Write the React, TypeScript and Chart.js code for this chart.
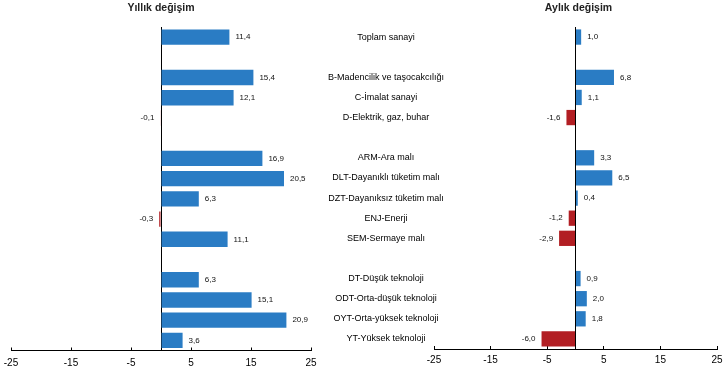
import React, { useEffect, useRef } from 'react';
import { Chart, registerables } from 'chart.js';

Chart.register(...registerables);

const categories = [
  'Toplam sanayi',
  '',
  'B-Madencilik ve taşocakcılığı',
  'C-İmalat sanayi',
  'D-Elektrik, gaz, buhar',
  '',
  'ARM-Ara malı',
  'DLT-Dayanıklı tüketim malı',
  'DZT-Dayanıksız tüketim malı',
  'ENJ-Enerji',
  'SEM-Sermaye malı',
  '',
  'DT-Düşük teknoloji',
  'ODT-Orta-düşük teknoloji',
  'OYT-Orta-yüksek teknoloji',
  'YT-Yüksek teknoloji',
];

const annualChange: (number | null)[] = [11.4, null, 15.4, 12.1, -0.1, null, 16.9, 20.5, 6.3, -0.3, 11.1, null, 6.3, 15.1, 20.9, 3.6];
const monthlyChange: (number | null)[] = [1.0, null, 6.8, 1.1, -1.6, null, 3.3, 6.5, 0.4, -1.2, -2.9, null, 0.9, 2.0, 1.8, -6.0];

const xTicks = [-25, -15, -5, 5, 15, 25];
const annualTitle = 'Yıllık değişim';
const monthlyTitle = 'Aylık değişim';

const BLUE = '#2a7cc4';
const RED = '#b21e23';
const FAMILY = "'Liberation Sans', Arial, sans-serif";
const CAT_FONT = 9;

function makeValueLabels() {
  return {
    id: 'valueLabels',
    afterDatasetsDraw(chart: any) {
      const ctx = chart.ctx;
      const meta = chart.getDatasetMeta(0);
      const data = chart.data.datasets[0].data as (number | null)[];
      ctx.save();
      ctx.font = `8px ${FAMILY}`;
      ctx.fillStyle = '#111';
      ctx.textBaseline = 'middle';
      meta.data.forEach((el: any, i: number) => {
        const v = data[i];
        if (v === null || v === undefined) return;
        const s = v.toFixed(1).replace('.', ',');
        if (v >= 0) {
          ctx.textAlign = 'left';
          ctx.fillText(s, el.x + 6, el.y);
        } else {
          ctx.textAlign = 'right';
          ctx.fillText(s, el.x - 6, el.y);
        }
      });
      ctx.restore();
    },
  };
}

function makeTitle(text: string, dx: number) {
  return {
    id: 'sideTitle',
    afterDraw(chart: any) {
      const ctx = chart.ctx;
      const x = chart.scales.x.getPixelForValue(0) + dx;
      ctx.save();
      ctx.font = `bold 10.5px ${FAMILY}`;
      ctx.fillStyle = '#222';
      ctx.textAlign = 'center';
      ctx.textBaseline = 'alphabetic';
      ctx.fillText(text, x, 11);
      ctx.restore();
    },
  };
}

function xScale(height: number, padding: number) {
  return {
    type: 'linear',
    min: -25,
    max: 25,
    afterBuildTicks: (s: any) => {
      s.ticks = [...xTicks, 0].sort((a, b) => a - b).map((v) => ({ value: v }));
    },
    afterFit: (s: any) => {
      s.height = height;
      s.paddingLeft = 0;
      s.paddingRight = 0;
    },
    grid: {
      drawOnChartArea: true,
      drawTicks: true,
      tickLength: -3,
      lineWidth: 1,
      color: (c: any) => (c.tick && c.tick.value === 0 ? '#000' : 'rgba(0,0,0,0)'),
      tickColor: (c: any) => (c.tick && c.tick.value === 0 ? 'rgba(0,0,0,0)' : '#000'),
    },
    border: { display: true, color: '#000', width: 1 },
    ticks: {
      autoSkip: false,
      maxRotation: 0,
      padding,
      color: '#000',
      font: { family: FAMILY, size: 10 },
      callback: (v: any) => (Number(v) === 0 ? '' : String(v)),
    },
  };
}

export default function App() {
  const leftRef = useRef<HTMLCanvasElement>(null);
  const rightRef = useRef<HTMLCanvasElement>(null);

  useEffect(() => {
    const mc = document.createElement('canvas').getContext('2d')!;
    mc.font = `${CAT_FONT}px ${FAMILY}`;
    const widest = Math.max(...categories.map((c) => mc.measureText(c).width));
    const yAxisWidth = 110;
    const labelCenter = 62;
    const yPad = labelCenter - yAxisWidth - widest / 2;

    const left = new Chart(leftRef.current!, {
      type: 'bar',
      data: {
        labels: categories,
        datasets: [
          {
            data: annualChange as any,
            backgroundColor: annualChange.map((v) => ((v ?? 0) < 0 ? RED : BLUE)),
            borderWidth: 0,
            barPercentage: 0.76,
            categoryPercentage: 1,
          },
        ],
      },
      options: {
        indexAxis: 'y',
        animation: false,
        responsive: false,
        events: [],
        layout: { padding: { left: 11, right: 13, top: 27, bottom: 0 } },
        plugins: { legend: { display: false }, tooltip: { enabled: false }, title: { display: false } },
        scales: {
          x: xScale(17.5, 9.5) as any,
          y: { type: 'category', display: false, grid: { display: false } },
        },
      },
      plugins: [makeValueLabels(), makeTitle(annualTitle, 0)],
    });

    const right = new Chart(rightRef.current!, {
      type: 'bar',
      data: {
        labels: categories,
        datasets: [
          {
            data: monthlyChange as any,
            backgroundColor: monthlyChange.map((v) => ((v ?? 0) < 0 ? RED : BLUE)),
            borderWidth: 0,
            barPercentage: 0.76,
            categoryPercentage: 1,
          },
        ],
      },
      options: {
        indexAxis: 'y',
        animation: false,
        responsive: false,
        events: [],
        layout: { padding: { left: 0, right: 7, top: 27, bottom: 0 } },
        plugins: { legend: { display: false }, tooltip: { enabled: false }, title: { display: false } },
        scales: {
          x: xScale(19, 8) as any,
          y: {
            type: 'category',
            position: 'left',
            afterFit: (s: any) => {
              s.width = yAxisWidth;
              s.paddingTop = 0;
              s.paddingBottom = 0;
            },
            grid: { display: false, drawTicks: false },
            border: { display: false },
            ticks: {
              autoSkip: false,
              mirror: true,
              crossAlign: 'center',
              padding: yPad,
              color: '#000',
              font: { family: FAMILY, size: CAT_FONT },
            },
          } as any,
        },
      },
      plugins: [makeValueLabels(), makeTitle(monthlyTitle, 3)],
    });

    return () => {
      left.destroy();
      right.destroy();
    };
  }, []);

  return (
    <div style={{ position: 'absolute', left: 0, top: 0, width: 724, height: 368, background: '#fff', overflow: 'hidden' }}>
      <canvas ref={leftRef} width={324} height={368} style={{ position: 'absolute', left: 0, top: 0, width: 324, height: 368 }} />
      <canvas ref={rightRef} width={400} height={368} style={{ position: 'absolute', left: 324, top: 0, width: 400, height: 368 }} />
    </div>
  );
}
